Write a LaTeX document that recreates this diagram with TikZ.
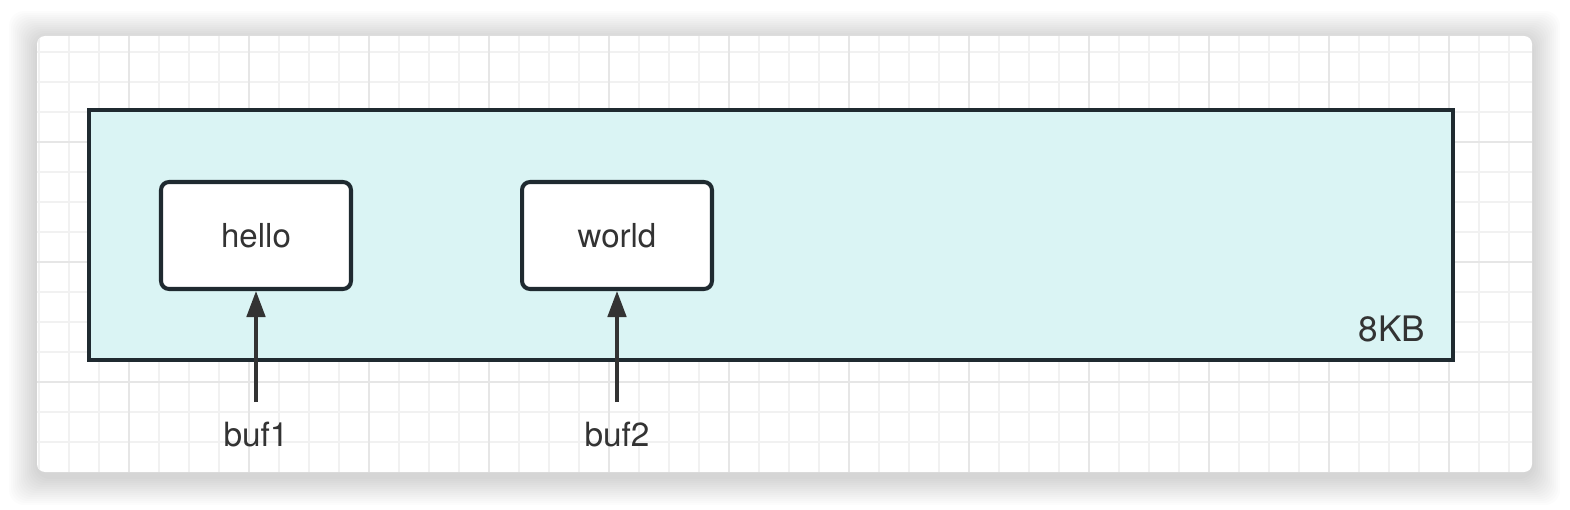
\documentclass[tikz,border=0pt]{standalone}
\usepackage{fontspec}
\setmainfont{TeX Gyre Heros}
\usetikzlibrary{arrows.meta}

\definecolor{ink}{HTML}{1F2A30}
\definecolor{txt}{HTML}{333333}
\definecolor{bufcyan}{HTML}{DAF4F4}
\definecolor{gridminor}{HTML}{F1F1F1}
\definecolor{gridmajor}{HTML}{E6E6E6}

\tikzset{
  chunk/.style={draw=ink, line width=2.3pt, fill=white, rounded corners=0.16cm,
    minimum width=3.8cm, minimum height=2.14cm, font=\fontsize{18.8}{22}\selectfont, text=txt},
  ptr/.style={-{Triangle[width=0.37cm,length=0.52cm]}, line width=1.9pt, draw=txt},
  ptrlabel/.style={font=\fontsize{19}{22}\selectfont, text=txt}
}

\begin{document}
\begin{tikzpicture}[x=0.02cm, y=-0.02cm]
  \useasboundingbox (0,0) rectangle (1570,510);

  % soft shadow round the card
  \foreach \i in {1,...,14}
    \fill[black, opacity=0.013, rounded corners=0.3cm]
      (37-2*\i,36-2*\i+3) rectangle (1532+2*\i,472+2*\i+5);

  % card with grid paper
  \fill[white, rounded corners=0.16cm] (37,36) rectangle (1532,472);
  \begin{scope}
    \clip[rounded corners=0.16cm] (37,36) rectangle (1532,472);
    \foreach \x in {39,69,...,1529}
      \draw[gridminor, line width=1pt] (\x,36) -- (\x,472);
    \foreach \y in {52,82,...,470}
      \draw[gridminor, line width=1pt] (37,\y) -- (1532,\y);
    \foreach \x in {129,249,...,1529}
      \draw[gridmajor, line width=1pt] (\x,36) -- (\x,472);
    \foreach \y in {142,262,382}
      \draw[gridmajor, line width=1pt] (37,\y) -- (1532,\y);
  \end{scope}

  % the 8KB buffer
  \node[draw=ink, line width=2.3pt, fill=bufcyan, minimum width=27.28cm,
    minimum height=5cm] (block) at (771,235) {};
  \node[font=\fontsize{20}{24}\selectfont, text=txt] (size) at (1392,329) {8KB};

  \node[chunk] (hello) at (256,235.5) {hello};
  \node[chunk] (world) at (617,235.5) {world};

  \coordinate (p1) at (256,402);
  \coordinate (p2) at (617,402);
  \node[ptrlabel] (buf1) at (256,435) {buf1};
  \node[ptrlabel] (buf2) at (617,435) {buf2};

  \draw[ptr] (p1) -- (hello.south);
  \draw[ptr] (p2) -- (world.south);
\end{tikzpicture}
\end{document}
